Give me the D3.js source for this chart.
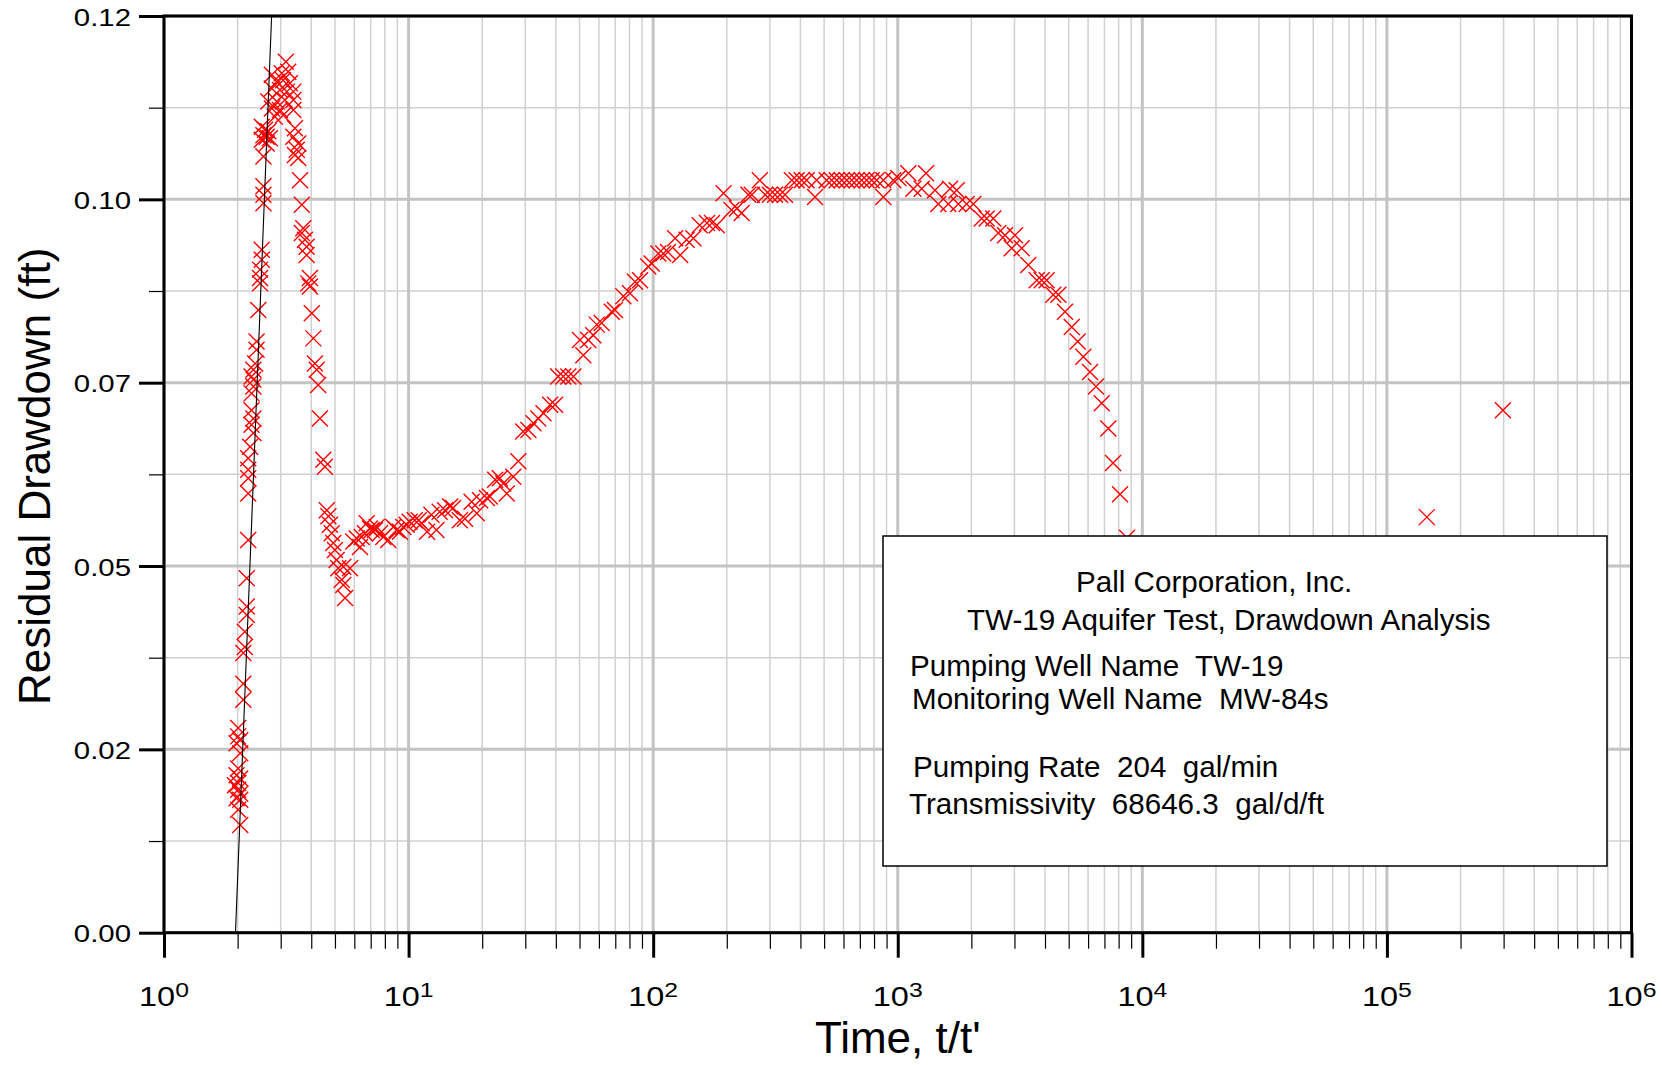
<!DOCTYPE html>
<html>
<head>
<meta charset="utf-8">
<script src="https://cdn.jsdelivr.net/npm/d3@7"></script>
<style>
    body { margin: 0; background: #fff; }
    svg { display: block; font-family: "Liberation Sans", Arial, sans-serif; }
</style>
</head>
<body>
<div id="chart"></div>
<script>
// recovery data, t/t' and residual drawdown (ft)
var timeRatio = [
    1.95, 1.98, 1.98, 1.98, 2.01, 2.01, 2.01, 2.01, 2.01, 2.01, 2.05, 2.05, 2.05, 2.05, 2.05, 2.05,
    2.11, 2.11, 2.11, 2.14, 2.14, 2.18, 2.18, 2.18, 2.21, 2.21, 2.21, 2.21, 2.21, 2.25,
    2.28, 2.28, 2.28, 2.28, 2.32, 2.32, 2.32, 2.32, 2.32, 2.36, 2.39, 2.39, 2.43,
    2.47, 2.47, 2.47, 2.51, 2.51, 2.51, 2.51, 2.55, 2.55, 2.55, 2.55, 2.55, 2.59,
    2.63, 2.63, 2.67, 2.67, 2.71, 2.76, 2.76, 2.76, 2.84, 2.89, 2.89, 2.98, 2.98,
    3.03, 3.07, 3.07, 3.12, 3.15, 3.18, 3.22, 3.27, 3.38, 3.38, 3.38, 3.38, 3.43, 3.43,
    3.49, 3.54, 3.54, 3.60, 3.66, 3.66, 3.71, 3.77, 3.83, 3.83, 3.89, 3.95, 3.95,
    4.02, 4.08, 4.14, 4.21, 4.27, 4.34, 4.48, 4.55, 4.63, 4.70, 4.77, 4.85, 4.92, 5.00,
    5.08, 5.16, 5.33, 5.41, 5.41, 5.50, 5.76, 5.94, 6.14, 6.33, 6.43, 6.63, 6.74, 6.95,
    7.07, 7.29, 7.41, 7.64, 7.88, 8.26, 8.66, 8.94, 9.22, 9.51, 9.82,
    10.1, 10.6, 11.0, 11.3, 11.9, 12.4, 13.0, 13.4, 14.1, 14.8, 15.2, 16.2, 17.0, 18.1, 19.0, 19.6,
    20.9, 21.5, 22.6, 23.6, 24.4, 25.2, 26.8, 28.1, 29.4, 30.9, 32.4, 33.9, 35.6, 37.9, 39.7,
    40.9, 42.9, 45.0, 47.2, 50.2, 51.8, 54.3, 56.9, 58.8, 61.6, 67.7, 69.8, 75.5, 80.4, 84.3, 88.4,
    95.5, 98.6, 105, 110, 115, 123, 129, 137, 146, 155, 166, 174, 182, 194, 209, 220, 230,
    245, 253, 273, 287, 300, 315, 330, 346, 369, 386, 405, 424, 459, 466, 512, 537, 563, 590,
    619, 648, 679, 712, 746, 782, 820, 873, 873, 959, 1005, 1105, 1158, 1253, 1305, 1420,
    1465, 1609, 1636, 1742, 1769, 1913, 2037, 2204, 2310, 2459, 2577, 2745, 2924, 3016, 3212,
    3418, 3700, 3878, 4064, 4325, 4535, 4830, 5145, 5442, 5738, 6111, 6465, 6823, 7260,
    7590, 8107, 8659, 145600, 298000
];

var drawdown = [
    0.0193, 0.0248, 0.0206, 0.0176, 0.0268, 0.0257, 0.0215, 0.0196, 0.0187, 0.0161, 0.0252, 0.0235, 0.0202, 0.0182, 0.0174, 0.0141,
    0.0366, 0.0326, 0.0305, 0.0394, 0.0374, 0.0464, 0.0427, 0.0416, 0.0621, 0.0606, 0.0595, 0.0575, 0.0514, 0.0636,
    0.0728, 0.0706, 0.0684, 0.0665, 0.0737, 0.0724, 0.0715, 0.0673, 0.0654, 0.0745, 0.0774, 0.0763, 0.0815,
    0.0868, 0.0857, 0.0850, 0.0894, 0.0881, 0.1055, 0.1038, 0.1016, 0.0977, 0.0966, 0.0955, 0.1044, 0.1051,
    0.1042, 0.1033, 0.1088, 0.1049, 0.1040, 0.1123, 0.1105, 0.1079, 0.1068, 0.1114, 0.1088, 0.1103, 0.1077,
    0.1125, 0.1116, 0.1070, 0.1090, 0.1140, 0.1101, 0.1127, 0.1112, 0.1101, 0.1090, 0.1077, 0.1042, 0.1053, 0.1018,
    0.1025, 0.1033, 0.1014, 0.0985, 0.0953, 0.0916, 0.0922, 0.0907, 0.0898, 0.0887, 0.0850, 0.0857, 0.0846,
    0.0811, 0.0778, 0.0745, 0.0737, 0.0717, 0.0673, 0.0619, 0.0610, 0.0553, 0.0545, 0.0534, 0.0523, 0.0510, 0.0501,
    0.0488, 0.0477, 0.0462, 0.0479, 0.0455, 0.0438, 0.0477, 0.0512, 0.0516, 0.0505, 0.0518, 0.0523, 0.0536, 0.0529,
    0.0527, 0.0527, 0.0531, 0.0523, 0.0518, 0.0514, 0.0531, 0.0527, 0.0525, 0.0531, 0.0534,
    0.0538, 0.0540, 0.0540, 0.0536, 0.0525, 0.0547, 0.0527, 0.0551, 0.0553, 0.0558, 0.0556, 0.0540, 0.0542, 0.0564, 0.0549, 0.0566,
    0.0569, 0.0571, 0.0593, 0.0595, 0.0588, 0.0575, 0.0597, 0.0617, 0.0656, 0.0658, 0.0667, 0.0673, 0.0680, 0.0691, 0.0691,
    0.0728, 0.0728, 0.0728, 0.0728, 0.0776, 0.0756, 0.0776, 0.0782, 0.0796, 0.0798, 0.0813, 0.0815, 0.0833, 0.0837, 0.0852, 0.0854,
    0.0872, 0.0876, 0.0889, 0.0889, 0.0891, 0.0909, 0.0887, 0.0907, 0.0909, 0.0926, 0.0929, 0.0929, 0.0926, 0.0968, 0.0946, 0.0948, 0.0942,
    0.0966, 0.0966, 0.0985, 0.0966, 0.0966, 0.0966, 0.0966, 0.0966, 0.0985, 0.0985, 0.0985, 0.0985, 0.0963, 0.0985, 0.0985, 0.0985, 0.0985, 0.0985,
    0.0985, 0.0985, 0.0985, 0.0985, 0.0985, 0.0985, 0.0985, 0.0963, 0.0985, 0.0985, 0.0988, 0.0994, 0.0974, 0.0974, 0.0994, 0.0972,
    0.0954, 0.0954, 0.0974, 0.0972, 0.0954, 0.0954, 0.0954, 0.0935, 0.0935, 0.0935, 0.0916, 0.0913, 0.0896, 0.0913, 0.0896,
    0.0874, 0.0854, 0.0854, 0.0854, 0.0835, 0.0835, 0.0813, 0.0793, 0.0774, 0.0754, 0.0734, 0.0715, 0.0693, 0.0660,
    0.0615, 0.0574, 0.0517, 0.0544, 0.0684
];

// straight line fit (Cooper-Jacob)
var fitTime = [1.96, 2.754];
var fitDrawdown = [0, 0.12];

var xDecades = [1, 10, 100, 1000, 10000, 100000, 1000000];
var yMajorTicks = [0, 0.024, 0.048, 0.072, 0.096, 0.12];
var yMinorTicks = [0.012, 0.036, 0.06, 0.084, 0.108];

var infoLines = [
    "Pall Corporation, Inc.",
    "TW-19 Aquifer Test, Drawdown Analysis",
    "Pumping Well Name  TW-19",
    "Monitoring Well Name  MW-84s",
    "Pumping Rate  204  gal/min",
    "Transmissivity  68646.3  gal/d/ft"
];

var width = 1662, height = 1065;
var plotL = 164, plotR = 1631.5, plotT = 16, plotB = 932.7;

var svg = d3.select("#chart").append("svg")
    .attr("width", width)
    .attr("height", height);

var x = d3.scaleLog().domain([1, 1e6]).range([plotL, plotR]);
var y = d3.scaleLinear().domain([0, 0.12]).range([plotB, plotT]);

function isDecade(d) {
    var l = Math.log10(d);
    return Math.abs(l - Math.round(l)) < 1e-9;
}
var xMinor = x.ticks().filter(function(d) { return !isDecade(d); });

// grid
var grid = svg.append("g");
grid.selectAll(".vmin").data(xMinor).join("line")
    .attr("x1", x).attr("x2", x).attr("y1", plotT).attr("y2", plotB)
    .attr("stroke", "#d0d0d0").attr("stroke-width", 1.5);
grid.selectAll(".hmin").data(yMinorTicks).join("line")
    .attr("x1", plotL).attr("x2", plotR).attr("y1", y).attr("y2", y)
    .attr("stroke", "#d0d0d0").attr("stroke-width", 1.5);
grid.selectAll(".vmaj").data(xDecades).join("line")
    .attr("x1", x).attr("x2", x).attr("y1", plotT).attr("y2", plotB)
    .attr("stroke", "#c3c3c3").attr("stroke-width", 3);
grid.selectAll(".hmaj").data(yMajorTicks).join("line")
    .attr("x1", plotL).attr("x2", plotR).attr("y1", y).attr("y2", y)
    .attr("stroke", "#c3c3c3").attr("stroke-width", 3);

// data points
svg.append("g").selectAll("path").data(d3.range(timeRatio.length)).join("path")
    .attr("d", "M-8,-8L8,8M-8,8L8,-8")
    .attr("transform", function(i) { return "translate(" + x(timeRatio[i]) + "," + y(drawdown[i]) + ")"; })
    .attr("fill", "none")
    .attr("stroke", "#ff0000")
    .attr("stroke-width", 1.4);

// fit line
svg.append("path")
    .datum(d3.range(fitTime.length))
    .attr("d", d3.line().x(function(i) { return x(fitTime[i]); }).y(function(i) { return y(fitDrawdown[i]); }))
    .attr("fill", "none")
    .attr("stroke", "#000")
    .attr("stroke-width", 1.1);

// info box
svg.append("rect")
    .attr("x", 883).attr("y", 536).attr("width", 724).attr("height", 330)
    .attr("fill", "#fff").attr("stroke", "#000").attr("stroke-width", 1.5);

var infoX = [1076, 967, 910, 912, 913, 909];
var infoY = [592, 630, 676, 709, 777, 814];
svg.append("g").selectAll("text").data(infoLines).join("text")
    .attr("x", function(d, i) { return infoX[i]; })
    .attr("y", function(d, i) { return infoY[i]; })
    .style("font-size", "29.6px")
    .style("white-space", "pre")
    .attr("fill", "#000")
    .text(function(d) { return d; });

// axes ticks
function styleAxis(g, w) {
    g.select(".domain").remove();
    g.selectAll(".tick line").attr("stroke", "#000").attr("stroke-width", w);
}
svg.append("g").attr("transform", "translate(0," + plotB + ")")
    .call(d3.axisBottom(x).tickValues(xMinor).tickSize(16).tickFormat(""))
    .call(styleAxis, 1.2);
svg.append("g").attr("transform", "translate(0," + plotB + ")")
    .call(d3.axisBottom(x).tickValues(xDecades).tickSize(25).tickFormat(""))
    .call(styleAxis, 3);
svg.append("g").attr("transform", "translate(" + plotL + ",0)")
    .call(d3.axisLeft(y).tickValues(yMinorTicks).tickSize(15).tickFormat(""))
    .call(styleAxis, 1.2);
svg.append("g").attr("transform", "translate(" + plotL + ",0)")
    .call(d3.axisLeft(y).tickValues(yMajorTicks).tickSize(25).tickFormat(""))
    .call(styleAxis, 3);

// frame
svg.append("rect")
    .attr("x", plotL).attr("y", plotT)
    .attr("width", plotR - plotL).attr("height", plotB - plotT)
    .attr("fill", "none").attr("stroke", "#000").attr("stroke-width", 3);

// tick labels
var fmt = d3.format(".2f");
svg.append("g").selectAll("text").data(yMajorTicks).join("text")
    .attr("transform", function(d) { return "translate(131," + (y(d) + 9.5) + ") scale(1.2,1)"; })
    .attr("text-anchor", "end")
    .style("font-size", "24.5px")
    .text(fmt);

var xl = svg.append("g").selectAll("text").data(xDecades).join("text")
    .attr("transform", function(d) { return "translate(" + x(d) + ",1006) scale(1.18,1)"; })
    .attr("text-anchor", "middle")
    .style("font-size", "27.5px");
xl.append("tspan").text("10");
xl.append("tspan").attr("dy", -9.5).style("font-size", "21px")
    .text(function(d) { return Math.round(Math.log10(d)); });

// axis titles
svg.append("text")
    .attr("transform", "translate(49.5," + ((plotT + plotB) / 2 + 2) + ") rotate(-90)")
    .attr("text-anchor", "middle")
    .style("font-size", "44px")
    .text("Residual Drawdown (ft)");
svg.append("text")
    .attr("x", (plotL + plotR) / 2)
    .attr("y", 1053)
    .attr("text-anchor", "middle")
    .style("font-size", "44px")
    .text("Time, t/t'");
</script>
</body>
</html>
